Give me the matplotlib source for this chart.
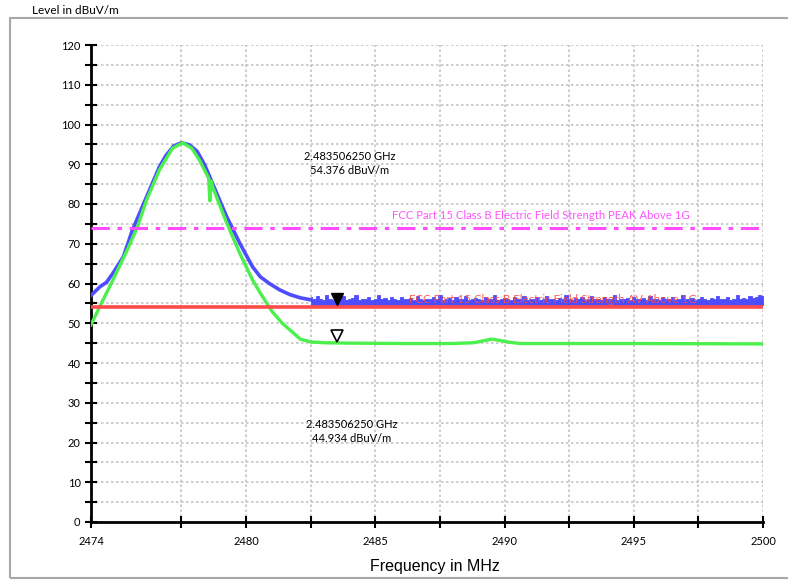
import matplotlib
matplotlib.use('Agg')
import matplotlib.pyplot as plt
import matplotlib.transforms as mtransforms
from matplotlib.patches import Rectangle
import numpy as np

plt.rcParams['font.family'] = ['Lato', 'DejaVu Sans']

# --- data ---
# max peak trace (blue), signal part
blue_f = [2474.0, 2474.35, 2474.6, 2474.85, 2475.25, 2475.6, 2476.15, 2476.65, 2476.9,
          2477.2, 2477.5, 2477.8, 2478.1, 2478.4, 2478.7, 2479.25, 2479.75, 2480.25,
          2480.55, 2480.9, 2481.3, 2481.7, 2482.1, 2482.5]
blue_v = [57.0, 59.2, 60.3, 62.6, 66.7, 73.4, 81.8, 89.4, 92.2,
          94.6, 95.4, 94.9, 93.3, 89.8, 85.2, 76.8, 70.2, 64.2,
          61.7, 60.0, 58.4, 57.2, 56.4, 55.9]
# max peak trace noise floor, 2482.5 .. 2500 MHz, upper edge of the band
blue_floor_hi = [56.6, 56.1, 56.9, 56.0, 55.8, 57.1, 56.2, 55.9, 56.4, 56.0,
                 56.8, 55.8, 56.1, 56.3, 57.0, 55.9, 56.2, 56.0, 56.6, 55.8,
                 56.1, 57.2, 56.0, 56.3, 55.9, 56.5, 56.0, 55.8, 56.7, 56.1,
                 56.0, 56.4, 55.9, 56.9, 56.1, 55.8, 56.2, 56.0, 56.6, 56.0,
                 57.0, 55.9, 56.1, 56.3, 55.8, 56.5, 56.0, 56.2, 56.9, 55.9,
                 56.0, 56.4, 56.1, 55.8, 56.7, 56.0, 56.2, 57.1, 55.9, 56.1,
                 56.3, 56.0, 55.8, 56.6, 56.1, 56.0, 56.8, 55.9, 56.2, 56.0,
                 56.5, 55.8, 56.1, 56.9, 56.0, 56.2, 55.9, 56.4, 56.0, 57.0,
                 56.1, 55.8, 56.3, 56.0, 56.6, 55.9, 56.1, 56.8, 56.0, 56.2,
                 55.8, 56.5, 56.0, 56.1, 57.1, 55.9, 56.2, 56.0, 56.4, 55.8,
                 56.7, 56.0, 56.1, 56.3, 55.9, 56.9, 56.0, 56.2, 55.8, 56.5,
                 56.1, 56.0, 56.6, 55.9, 56.2, 57.0, 56.0, 56.1, 56.4, 55.8,
                 56.2, 56.7, 56.0, 55.9, 56.3, 56.1, 56.8, 56.0, 56.2, 56.5,
                 55.9, 56.1, 57.1, 56.2, 56.4, 56.0, 56.8, 56.3, 56.6, 57.2, 56.9]
blue_floor_lo = 54.6

# average trace (green)
green_f = [2474.0, 2474.4, 2474.85, 2475.4, 2475.8, 2476.15, 2476.65, 2477.15, 2477.55,
           2477.9, 2478.2, 2478.55, 2478.6, 2478.65, 2478.7, 2479.25, 2479.75, 2480.25,
           2480.55, 2481.0, 2481.4, 2481.7, 2482.1, 2482.5, 2483.0, 2484.0, 2486.0,
           2488.0, 2488.8, 2489.2, 2489.5, 2489.8, 2490.2, 2490.6, 2492.0, 2495.0, 2500.0]
green_v = [49.6, 55.0, 60.9, 68.4, 74.3, 81.0, 88.6, 94.0, 95.4,
           94.0, 91.0, 86.5, 80.8, 85.8, 84.4, 75.2, 67.7, 60.9,
           57.6, 53.0, 50.0, 48.3, 46.0, 45.3, 45.1, 45.0, 44.9,
           44.9, 45.1, 45.6, 46.0, 45.7, 45.2, 44.9, 44.9, 44.9, 44.8]

# limit lines
av_limit = 54.0
peak_limit = 74.0
av_label = 'FCC Part 15 Class B Electric Field Strength AV Above 1G'
peak_label = 'FCC Part 15 Class B Electric Field Strength PEAK Above 1G'

# markers
mk_f = 2483.50625
mk_peak = 54.376
mk_avg = 44.934

x_major = [2474, 2480, 2485, 2490, 2495, 2500]
x_minor = [2477.5, 2482.5, 2487.5, 2492.5, 2497.5]

fig = plt.figure(figsize=(7.88, 5.8), dpi=100)
ax = fig.add_axes([91/788, 1 - 522/580, (763 - 91)/788, (522 - 45)/580])

# outer frame
fig.patches.append(Rectangle((10/788, 2/580), 1.0, 1 - 18/580 - 2/580,
                             transform=fig.transFigure, fill=False,
                             edgecolor='#a8a8a8', linewidth=1.5, zorder=0))

blue = '#4d4dff'
green = '#4cf04c'
ax.plot(blue_f, blue_v, color=blue, lw=2.6, zorder=3)
fl_f = np.linspace(2482.5, 2500, len(blue_floor_hi))
ax.fill_between(fl_f, blue_floor_lo, blue_floor_hi, color=blue, lw=0.6, step='mid', zorder=3)
ax.plot(green_f, green_v, color=green, lw=2.4, zorder=4)

ax.axhline(av_limit, color='#ff4a4a', lw=2.6, zorder=5)
ax.axhline(peak_limit, color='#ff4cff', lw=2.2, dashes=(6, 2.5, 1.5, 2.5), zorder=5)
ax.text(2491.87, 56.1, av_label, color='#ff4848', alpha=0.9, fontsize=8.3,
        ha='center', va='center', zorder=6)
ax.text(2491.39, 77.0, peak_label, color='#ff55ff', fontsize=8.2,
        ha='center', va='center', zorder=6)

# markers, tip of the triangle on the value
off = mtransforms.offset_copy(ax.transData, fig=fig, x=0, y=5, units='points')
ax.plot([mk_f], [mk_peak], marker='v', ms=9, color='black', transform=off, zorder=7)
ax.plot([mk_f], [mk_avg], marker='v', ms=9, mfc='white', mec='black', mew=1.2,
        transform=off, zorder=7)
ax.text(2484.02, 90.2, '2.483506250 GHz\n%.3f dBuV/m' % mk_peak, fontsize=8,
        ha='center', va='center', linespacing=1.4)
ax.text(2484.1, 22.8, '2.483506250 GHz\n%.3f dBuV/m' % mk_avg, fontsize=8,
        ha='center', va='center', linespacing=1.4)

ax.set_xlim(2474, 2500)
ax.set_ylim(0, 120)
ax.set_xticks(x_major)
ax.set_xticks(x_minor, minor=True)
ax.set_yticks(range(0, 121, 10))
ax.set_yticks(range(5, 120, 10), minor=True)
ax.tick_params(which='both', direction='inout', length=8, width=1.5, labelsize=8,
               colors='black')
ax.tick_params(axis='x', which='major', pad=6)
ax.grid(which='both', color='#c4c4c4', linestyle=(0, (1.5, 1.5)), lw=1.2)
ax.set_axisbelow(True)
for s in ['top', 'right']:
    ax.spines[s].set_visible(False)
for s in ['left', 'bottom']:
    ax.spines[s].set_linewidth(2)

fig.text(75/788, 1 - 11/580, 'Level in dBuV/m', fontsize=8.5, ha='center', va='center')
fig.text(435/788, 1 - 566/580, 'Frequency in MHz', fontsize=11.5, ha='center', va='center',
         family=['Liberation Sans', 'DejaVu Sans'])

fig.savefig('out.png', dpi=100)
